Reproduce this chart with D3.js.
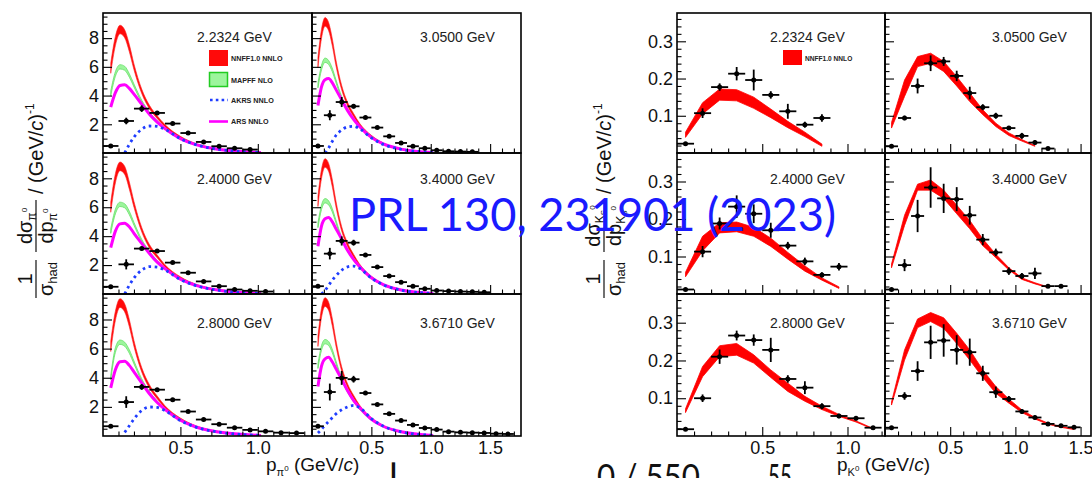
<!DOCTYPE html>
<html><head><meta charset="utf-8">
<script src="https://cdn.jsdelivr.net/npm/d3@7"></script>
<style>html,body{margin:0;padding:0;background:#fff;}svg{display:block;}</style>
</head><body>
<svg id="c" width="1092" height="478"></svg>
<script>
// ---------------- DATA ----------------
const pionEnergies = ["2.2324 GeV","3.0500 GeV","2.4000 GeV","3.4000 GeV","2.8000 GeV","3.6710 GeV"];
const kaonEnergies = ["2.2324 GeV","3.0500 GeV","2.4000 GeV","3.4000 GeV","2.8000 GeV","3.6710 GeV"];
const binCenters = [0.05,0.15,0.25,0.35,0.45,0.55,0.65,0.75,0.85,0.95,1.05,1.15,1.25,1.35,1.45,1.55,1.65];
const binHalfWidth = 0.05;

// pi0 measured points (panel order: 2.2324, 3.0500, 2.4000, 3.4000, 2.8000, 3.6710)
const pi_2232 = [0.49,2.23,3.09,2.79,2.05,1.39,0.77,0.47,0.33,0.24];
const pi_2232_err = [0.05,0.23,0.23,0.1,0.05,0.05,0.05,0.05,0.05,0.05];
const pi_3050 = [0.49,2.63,3.55,3.25,2.47,1.77,1.16,0.70,0.47,0.33,0.19,0.12,0.10,0.08];
const pi_3050_err = [0.05,0.35,0.35,0.15,0.08,0.05,0.05,0.05,0.05,0.05,0.05,0.05,0.05,0.05];
const pi_2400 = [0.50,2.05,3.14,2.97,2.17,1.47,0.87,0.54,0.31,0.22,0.17];
const pi_2400_err = [0.05,0.35,0.12,0.1,0.05,0.05,0.05,0.05,0.05,0.05,0.05];
const pi_3400 = [0.54,2.79,3.67,3.55,2.70,1.86,1.24,0.82,0.54,0.36,0.24,0.20,0.17,0.15,0.12];
const pi_3400_err = [0.1,0.4,0.32,0.2,0.08,0.05,0.05,0.05,0.05,0.05,0.05,0.05,0.05,0.05,0.05];
const pi_2800 = [0.67,2.33,3.37,3.18,2.49,1.68,1.13,0.81,0.57,0.42,0.32,0.23,0.20];
const pi_2800_err = [0.05,0.4,0.2,0.1,0.05,0.05,0.05,0.05,0.05,0.05,0.05,0.05,0.05];
const pi_3671 = [0.67,3.02,3.99,3.90,2.95,2.17,1.52,1.06,0.76,0.55,0.44,0.30,0.25,0.23,0.21,0.16,0.14];
const pi_3671_err = [0.1,0.58,0.48,0.23,0.1,0.05,0.05,0.05,0.05,0.05,0.05,0.05,0.05,0.05,0.05,0.05,0.05];

// pi0 model curves on a common momentum grid
const curveP = [0.05,0.08,0.11,0.14,0.17,0.20,0.25,0.30,0.35,0.40,0.50,0.60,0.75,1.02];
const nnffHalfWidth  = [0.35,0.32,0.3,0.28,0.25,0.2,0.15,0.12,0.1,0.08,0.06,0.04,0.03,0.02];
const mapffHalfWidth = [0.16,0.16,0.15,0.14,0.12,0.1,0.08,0.06,0.05,0.04,0.03,0.02,0.015,0.01];

const nnff_2232  = [5.9,7.8,8.6,8.3,7.3,6.0,4.3,3.2,2.5,1.9,1.1,0.62,0.26,0.04];
const mapff_2232 = [4.15,5.5,6.0,5.9,5.4,4.7,3.6,2.8,2.2,1.72,1.02,0.58,0.25,0.04];
const ars_2232   = [3.2,4.2,4.7,4.75,4.5,4.1,3.4,2.7,2.15,1.7,1.0,0.58,0.25,0.04];
const akrs_2232  = [null,null,null,0.0,0.6,1.1,1.65,1.88,1.85,1.65,1.0,0.58,0.25,0.04];

const nnff_3050  = [6.3,8.3,9.13,8.8,7.75,6.35,4.55,3.4,2.65,2.0,1.17,0.66,0.28,0.04];
const mapff_3050 = [4.7,5.95,6.46,6.3,5.8,5.05,3.85,3.0,2.37,1.85,1.1,0.63,0.27,0.04];
const ars_3050   = [3.3,4.6,5.1,5.18,4.9,4.45,3.7,2.95,2.35,1.85,1.09,0.63,0.27,0.04];
const akrs_3050  = [null,null,0.0,0.35,0.8,1.2,1.6,1.82,1.86,1.7,1.05,0.6,0.26,0.04];

const nnff_2400  = [6.0,8.0,8.83,8.55,7.5,6.2,4.45,3.3,2.6,1.95,1.13,0.64,0.27,0.04];
const mapff_2400 = [4.35,5.7,6.2,6.1,5.6,4.85,3.7,2.9,2.27,1.78,1.05,0.6,0.26,0.04];
const ars_2400   = [3.2,4.35,4.85,4.9,4.65,4.2,3.5,2.8,2.2,1.75,1.03,0.6,0.26,0.04];
const akrs_2400  = [null,null,null,0.0,0.6,1.1,1.65,1.89,1.86,1.66,1.0,0.58,0.25,0.04];

const nnff_3400  = [6.4,8.3,9.06,8.75,7.7,6.3,4.5,3.4,2.65,2.0,1.17,0.66,0.28,0.04];
const mapff_3400 = [4.75,6.0,6.45,6.3,5.8,5.05,3.85,3.0,2.37,1.85,1.1,0.63,0.27,0.04];
const ars_3400   = [3.3,4.7,5.2,5.29,5.0,4.55,3.8,3.0,2.4,1.9,1.12,0.65,0.28,0.04];
const akrs_3400  = [null,0.0,0.25,0.6,0.95,1.25,1.65,1.88,1.93,1.78,1.1,0.63,0.27,0.04];

const nnff_2800  = [6.15,8.25,9.13,8.8,7.75,6.35,4.55,3.4,2.65,2.0,1.17,0.66,0.28,0.04];
const mapff_2800 = [4.0,5.9,6.44,6.3,5.8,5.05,3.85,3.0,2.35,1.84,1.09,0.62,0.27,0.04];
const ars_2800   = [3.3,4.55,5.1,5.14,4.85,4.4,3.65,2.9,2.3,1.83,1.08,0.62,0.27,0.04];
const akrs_2800  = [null,null,null,0.25,0.7,1.17,1.75,1.99,1.96,1.75,1.06,0.61,0.26,0.04];

const nnff_3671  = [6.5,8.45,9.2,8.9,7.85,6.45,4.6,3.45,2.7,2.05,1.2,0.68,0.29,0.04];
const mapff_3671 = [4.8,6.05,6.48,6.35,5.85,5.1,3.9,3.05,2.4,1.88,1.12,0.64,0.28,0.04];
const ars_3671   = [3.4,4.8,5.3,5.4,5.1,4.65,3.9,3.1,2.45,1.95,1.15,0.67,0.29,0.04];
const akrs_3671  = [0.2,0.45,0.75,1.0,1.25,1.5,1.8,2.0,2.1,1.95,1.2,0.68,0.29,0.04];

// K0S measured points
const k_2232 = [0.025,0.107,0.177,0.213,0.196,0.156,0.112,0.076,0.094];
const k_2232_err = [0.004,0.013,0.01,0.018,0.028,0.01,0.02,0.008,0.01];
const k_3050 = [0.018,0.094,0.180,0.241,0.246,0.207,0.161,0.123,0.100,0.067,0.046,0.028,0.012];
const k_3050_err = [0.003,0.006,0.02,0.021,0.012,0.014,0.017,0.008,0.008,0.005,0.008,0.006,0.003];
const k_2400 = [0.012,0.113,0.188,0.233,0.214,0.170,0.129,0.087,0.051,0.073];
const k_2400_err = [0.003,0.015,0.016,0.03,0.025,0.02,0.01,0.01,0.007,0.01];
const k_3400 = [0.012,0.077,0.208,0.284,0.255,0.253,0.210,0.145,0.111,0.061,0.048,0.055,0.021,0.021];
const k_3400_err = [0.003,0.016,0.043,0.054,0.039,0.032,0.025,0.015,0.01,0.01,0.008,0.015,0.003,0.003];
const k_2800 = [0.018,0.100,0.210,0.266,0.254,0.228,0.151,0.128,0.079,0.053,0.047,0.022];
const k_2800_err = [0.003,0.01,0.019,0.013,0.015,0.032,0.01,0.017,0.008,0.006,0.006,0.004];
const k_3671 = [0.022,0.106,0.172,0.248,0.253,0.228,0.222,0.166,0.116,0.098,0.065,0.049,0.032,0.027,0.023];
const k_3671_err = [0.003,0.01,0.026,0.044,0.043,0.039,0.036,0.02,0.015,0.008,0.006,0.005,0.004,0.003,0.003];

// K0S NNFF1.0 NNLO bands (lower / upper) at bin centres
const kb_2232_lo = [0.042,0.105,0.142,0.140,0.120,0.095,0.068,0.044,0.018];
const kb_2232_hi = [0.056,0.135,0.172,0.170,0.150,0.118,0.085,0.056,0.024];
const kb_3050_lo = [0.067,0.152,0.232,0.241,0.219,0.180,0.138,0.103,0.071,0.047,0.032,0.018];
const kb_3050_hi = [0.082,0.196,0.259,0.268,0.246,0.205,0.161,0.116,0.080,0.054,0.036,0.020];
const kb_2400_lo = [0.046,0.115,0.163,0.166,0.154,0.127,0.093,0.061,0.037,0.015];
const kb_2400_hi = [0.058,0.154,0.190,0.192,0.178,0.149,0.111,0.075,0.043,0.019];
const kb_3400_lo = [0.070,0.183,0.277,0.277,0.255,0.214,0.174,0.129,0.097,0.064,0.039,0.027,0.017];
const kb_3400_hi = [0.080,0.210,0.293,0.304,0.277,0.237,0.196,0.147,0.106,0.070,0.043,0.030,0.019];
const kb_2800_lo = [0.062,0.157,0.210,0.214,0.193,0.155,0.118,0.092,0.070,0.052,0.037,0.018];
const kb_2800_hi = [0.072,0.184,0.239,0.245,0.215,0.175,0.140,0.105,0.079,0.057,0.040,0.020];
const kb_3671_lo = [0.082,0.201,0.287,0.303,0.285,0.245,0.201,0.155,0.113,0.087,0.062,0.045,0.031,0.023,0.017];
const kb_3671_hi = [0.090,0.228,0.310,0.327,0.313,0.272,0.228,0.175,0.131,0.098,0.069,0.049,0.034,0.025,0.019];

const pionYTicks = [2,4,6,8];
const kaonYTicks = [0.1,0.2,0.3];
const xTickLabels = [0.5,1.0,1.5];
const pionLegend = ["NNFF1.0 NNLO","MAPFF NLO","AKRS NNLO","ARS NNLO"];
const kaonLegend = ["NNFF1.0 NNLO"];
const overlayText = "PRL 130, 231901 (2023)";
const cutFragments = ["|", "0 / 550", "55"];

// ---------------- LAYOUT ----------------
const svg = d3.select("#c");
const FONT = "'Liberation Sans', Arial, Helvetica, sans-serif";
const rowsPx = [[13,153],[153,294],[294,436]];
const pionCols = [{px:[103,312],dom:[0,1.35]},{px:[312,521],dom:[0,1.76]}];
const kaonCols = [{px:[677,885],dom:[0,1.22]},{px:[885,1091],dom:[0,1.58]}];
const labelBase = [42,183.5,328];
const labelOffset = [94,108];

const pionSets = [
  {v:pi_2232,e:pi_2232_err,nnff:nnff_2232,mapff:mapff_2232,ars:ars_2232,akrs:akrs_2232},
  {v:pi_3050,e:pi_3050_err,nnff:nnff_3050,mapff:mapff_3050,ars:ars_3050,akrs:akrs_3050},
  {v:pi_2400,e:pi_2400_err,nnff:nnff_2400,mapff:mapff_2400,ars:ars_2400,akrs:akrs_2400},
  {v:pi_3400,e:pi_3400_err,nnff:nnff_3400,mapff:mapff_3400,ars:ars_3400,akrs:akrs_3400},
  {v:pi_2800,e:pi_2800_err,nnff:nnff_2800,mapff:mapff_2800,ars:ars_2800,akrs:akrs_2800},
  {v:pi_3671,e:pi_3671_err,nnff:nnff_3671,mapff:mapff_3671,ars:ars_3671,akrs:akrs_3671}
];
const kaonSets = [
  {v:k_2232,e:k_2232_err,lo:kb_2232_lo,hi:kb_2232_hi},
  {v:k_3050,e:k_3050_err,lo:kb_3050_lo,hi:kb_3050_hi},
  {v:k_2400,e:k_2400_err,lo:kb_2400_lo,hi:kb_2400_hi},
  {v:k_3400,e:k_3400_err,lo:kb_3400_lo,hi:kb_3400_hi},
  {v:k_2800,e:k_2800_err,lo:kb_2800_lo,hi:kb_2800_hi},
  {v:k_3671,e:k_3671_err,lo:kb_3671_lo,hi:kb_3671_hi}
];

let clipId = 0;
function makeFrame(col, row, yDomain, yMinorStep, yMajor, showY, showX, id) {
  const x = d3.scaleLinear().domain(col.dom).range(col.px);
  const y = d3.scaleLinear().domain(yDomain).range([rowsPx[row][1], rowsPx[row][0]]);
  const g = svg.append("g");
  const cid = "clip" + (clipId++);
  svg.append("clipPath").attr("id", cid).append("rect")
    .attr("x", col.px[0]).attr("y", rowsPx[row][0])
    .attr("width", col.px[1]-col.px[0]).attr("height", rowsPx[row][1]-rowsPx[row][0]);
  const plot = g.append("g").attr("clip-path", `url(#${cid})`);
  const axes = g.append("g");
  const xMinor = d3.range(0.1, col.dom[1], 0.1).filter(t => Math.abs(t*2 - Math.round(t*2)) > 1e-6);
  const xMajor = xTickLabels.filter(t => t < col.dom[1]);
  axes.append("g").attr("transform", `translate(0,${rowsPx[row][1]})`)
    .call(d3.axisBottom(x).tickValues(xMinor).tickSize(-4.5).tickFormat(""))
    .call(s => s.select(".domain").remove());
  axes.append("g").attr("transform", `translate(0,${rowsPx[row][1]})`)
    .call(d3.axisBottom(x).tickValues(xMajor).tickSize(-9).tickPadding(5)
      .tickFormat(showX ? d3.format(".1f") : ""))
    .call(s => s.select(".domain").remove());
  const yMinor = d3.range(yMinorStep, yDomain[1], yMinorStep).filter(t => !yMajor.some(m => Math.abs(m-t) < 1e-6));
  axes.append("g").attr("transform", `translate(${col.px[0]},0)`)
    .call(d3.axisLeft(y).tickValues(yMinor).tickSize(-4.5).tickFormat(""))
    .call(s => s.select(".domain").remove());
  axes.append("g").attr("transform", `translate(${col.px[0]},0)`)
    .call(d3.axisLeft(y).tickValues(yMajor).tickSize(-9).tickPadding(4)
      .tickFormat(showY ? (id === "pi" ? d3.format("d") : d3.format(".1f")) : ""))
    .call(s => s.select(".domain").remove());
  axes.selectAll(".tick line").attr("stroke", "#000").attr("stroke-width", 1.1);
  axes.selectAll("text").attr("font-family", FONT).attr("font-size", 18).attr("fill", "#111");
  g.append("rect").attr("x", col.px[0]).attr("y", rowsPx[row][0])
    .attr("width", col.px[1]-col.px[0]).attr("height", rowsPx[row][1]-rowsPx[row][0])
    .attr("fill", "none").attr("stroke", "#000").attr("stroke-width", 1.6);
  return {x, y, plot, g};
}

function drawPoints(plot, x, y, vals, errs) {
  const pts = vals.map((v,i) => ({p: binCenters[i], v, e: errs[i]}));
  const gp = plot.append("g");
  gp.selectAll("line.h").data(pts).join("line")
    .attr("x1", d => x(d.p - binHalfWidth)).attr("x2", d => x(d.p + binHalfWidth))
    .attr("y1", d => y(d.v)).attr("y2", d => y(d.v))
    .attr("stroke", "#000").attr("stroke-width", 1.8);
  gp.selectAll("line.v").data(pts).join("line")
    .attr("x1", d => x(d.p)).attr("x2", d => x(d.p))
    .attr("y1", d => y(d.v - d.e)).attr("y2", d => y(d.v + d.e))
    .attr("stroke", "#000").attr("stroke-width", 1.8);
  gp.selectAll("circle").data(pts).join("circle")
    .attr("cx", d => x(d.p)).attr("cy", d => y(d.v)).attr("r", 2.5).attr("fill", "#000");
}

// ---- pi0 panels ----
pionSets.forEach((s, i) => {
  const row = Math.floor(i/2), c = i % 2;
  const f = makeFrame(pionCols[c], row, [0, 9.75], 0.5, pionYTicks, c === 0, row === 2, "pi");
  const {x, y, plot} = f;
  const band = (center, hw) => center.map((v,k) => ({p: curveP[k], lo: v - hw[k], hi: v + hw[k]}));
  const area = d3.area().x(d => x(d.p)).y0(d => y(d.lo)).y1(d => y(d.hi)).curve(d3.curveMonotoneX);
  plot.append("path").datum(band(s.nnff, nnffHalfWidth)).attr("d", area)
    .attr("fill", "#ff0a0a").attr("stroke", "#ff2020").attr("stroke-width", 0.6);
  plot.append("path").datum(band(s.mapff, mapffHalfWidth)).attr("d", area)
    .attr("fill", "#9cf59c").attr("stroke", "#66e066").attr("stroke-width", 0.8);
  const line = d3.line().defined(d => d.v !== null).x(d => x(d.p)).y(d => y(d.v)).curve(d3.curveMonotoneX);
  plot.append("path").datum(s.ars.map((v,k) => ({p: curveP[k], v}))).attr("d", line)
    .attr("fill", "none").attr("stroke", "#ff00ff").attr("stroke-width", 3);
  plot.append("path").datum(s.akrs.map((v,k) => ({p: curveP[k], v}))).attr("d", line)
    .attr("fill", "none").attr("stroke", "#1f3dff").attr("stroke-width", 2.8).attr("stroke-dasharray", "2.6,3.6");
  drawPoints(plot, x, y, s.v, s.e);
  f.g.append("text").attr("x", pionCols[c].px[0] + labelOffset[c]).attr("y", labelBase[row])
    .attr("font-family", FONT).attr("font-size", 14).attr("fill", "#222").text(pionEnergies[i]);
});

// ---- K0 panels ----
kaonSets.forEach((s, i) => {
  const row = Math.floor(i/2), c = i % 2;
  const f = makeFrame(kaonCols[c], row, [0, 0.376], 0.02, kaonYTicks, c === 0, row === 2, "k");
  const {x, y, plot} = f;
  const area = d3.area().x(d => x(d.p)).y0(d => y(d.lo)).y1(d => y(d.hi));
  plot.append("path").datum(s.lo.map((v,k) => ({p: binCenters[k], lo: v, hi: s.hi[k]}))).attr("d", area)
    .attr("fill", "#ff0000").attr("stroke", "#ff0000").attr("stroke-width", 0.8);
  drawPoints(plot, x, y, s.v, s.e);
  f.g.append("text").attr("x", kaonCols[c].px[0] + labelOffset[c] - 1).attr("y", labelBase[row])
    .attr("font-family", FONT).attr("font-size", 14).attr("fill", "#222").text(kaonEnergies[i]);
});

// ---- legends ----
const lg = svg.append("g").attr("font-family", FONT).attr("font-weight", "bold").attr("font-size", 7.2).attr("fill", "#222");
lg.append("rect").attr("x", 209).attr("y", 50).attr("width", 19).attr("height", 16).attr("fill", "#ff0a0a");
lg.append("rect").attr("x", 209.5).attr("y", 72.5).attr("width", 18).attr("height", 14).attr("fill", "#9cf59c").attr("stroke", "#22cc22").attr("stroke-width", 1.5);
lg.append("line").attr("x1", 210).attr("x2", 228).attr("y1", 100).attr("y2", 100).attr("stroke", "#1f3dff").attr("stroke-width", 2.6).attr("stroke-dasharray", "2.6,3.2");
lg.append("line").attr("x1", 209).attr("x2", 228).attr("y1", 121.5).attr("y2", 121.5).attr("stroke", "#ff00ff").attr("stroke-width", 2.6);
[58, 80, 100, 121.5].forEach((yy, k) => lg.append("text").attr("x", 231).attr("y", yy + 2.6).text(pionLegend[k]));
lg.append("rect").attr("x", 783).attr("y", 50).attr("width", 19).attr("height", 15).attr("fill", "#ff0000");
lg.append("text").attr("x", 805).attr("y", 60.5).attr("font-size", 6.6).text(kaonLegend[0]);

// ---- axis titles ----
function xTitle(x0, sub, supTxt) {
  const t = svg.append("text").attr("x", x0).attr("y", 471).attr("font-family", FONT).attr("font-size", 19).attr("fill", "#111");
  t.append("tspan").text("p");
  t.append("tspan").attr("font-size", 11).attr("dy", 5).text(sub);
  t.append("tspan").attr("font-size", 8).attr("dy", -5).text(supTxt);
  t.append("tspan").attr("dy", 0).text(" (GeV/");
  t.append("tspan").attr("font-style", "italic").text("c");
  t.append("tspan").text(")");
}
xTitle(266, "\u03c0", "0");
xTitle(837, "K", "0");

function yTitle(tx, sub, sup, sub2) {
  const g = svg.append("g").attr("transform", `translate(${tx},300) rotate(-90)`)
    .attr("font-family", FONT).attr("fill", "#111");
  g.append("line").attr("x1", 2).attr("x2", 40).attr("y1", 0).attr("y2", 0).attr("stroke", "#111").attr("stroke-width", 1.2);
  g.append("text").attr("x", 21).attr("y", -4).attr("text-anchor", "middle").attr("font-size", 20).text("1");
  const d1 = g.append("text").attr("x", 21).attr("y", 17).attr("text-anchor", "middle").attr("font-size", 20);
  d1.append("tspan").text("\u03c3");
  d1.append("tspan").attr("font-size", 13).attr("dy", 4).text("had");
  g.append("line").attr("x1", 48).attr("x2", 100).attr("y1", 0).attr("y2", 0).attr("stroke", "#111").attr("stroke-width", 1.2);
  const n2 = g.append("text").attr("x", 74).attr("y", -4).attr("text-anchor", "middle").attr("font-size", 20);
  n2.append("tspan").text("d\u03c3");
  n2.append("tspan").attr("font-size", 12).attr("dy", 4).text(sub);
  if (sub2) n2.append("tspan").attr("font-size", 8).attr("dy", 2).text(sub2);
  n2.append("tspan").attr("font-size", 8).attr("dy", sub2 ? -11 : -9).text(sup);
  const d2 = g.append("text").attr("x", 74).attr("y", 17).attr("text-anchor", "middle").attr("font-size", 20);
  d2.append("tspan").text("dp");
  d2.append("tspan").attr("font-size", 12).attr("dy", 4).text(sub);
  if (sub2) d2.append("tspan").attr("font-size", 8).attr("dy", 2).text(sub2);
  d2.append("tspan").attr("font-size", 8).attr("dy", sub2 ? -11 : -9).text(sup);
  const t = g.append("text").attr("x", 106).attr("y", 7).attr("font-size", 20);
  t.append("tspan").text("/ (GeV/");
  t.append("tspan").attr("font-style", "italic").text("c");
  t.append("tspan").text(")");
  t.append("tspan").attr("font-size", 12).attr("dy", -9).text("-1");
}
yTitle(36, "\u03c0", "0", null);
yTitle(604, "K", "0", "S");

// ---- overlay ----
svg.append("text").attr("x", 349).attr("y", 231).attr("font-family", "Lato, 'Open Sans', sans-serif")
  .attr("font-size", 47).attr("fill", "#1a1aff").attr("textLength", 487).attr("lengthAdjust", "spacingAndGlyphs")
  .text(overlayText);

// ---- cut-off slide text at the bottom edge (only the tops are visible) ----
const cut = svg.append("g").attr("font-family", "Lato, sans-serif").attr("font-size", 34).attr("fill", "#111");
cut.append("text").attr("x", 389).attr("y", 489).attr("font-weight", "bold").text(cutFragments[0]);
cut.append("text").attr("x", 597).attr("y", 489).attr("textLength", 103).attr("lengthAdjust", "spacingAndGlyphs").text(cutFragments[1]);
cut.append("text").attr("x", 768).attr("y", 489).attr("textLength", 24).attr("lengthAdjust", "spacingAndGlyphs").text(cutFragments[2]);
</script></body></html>
